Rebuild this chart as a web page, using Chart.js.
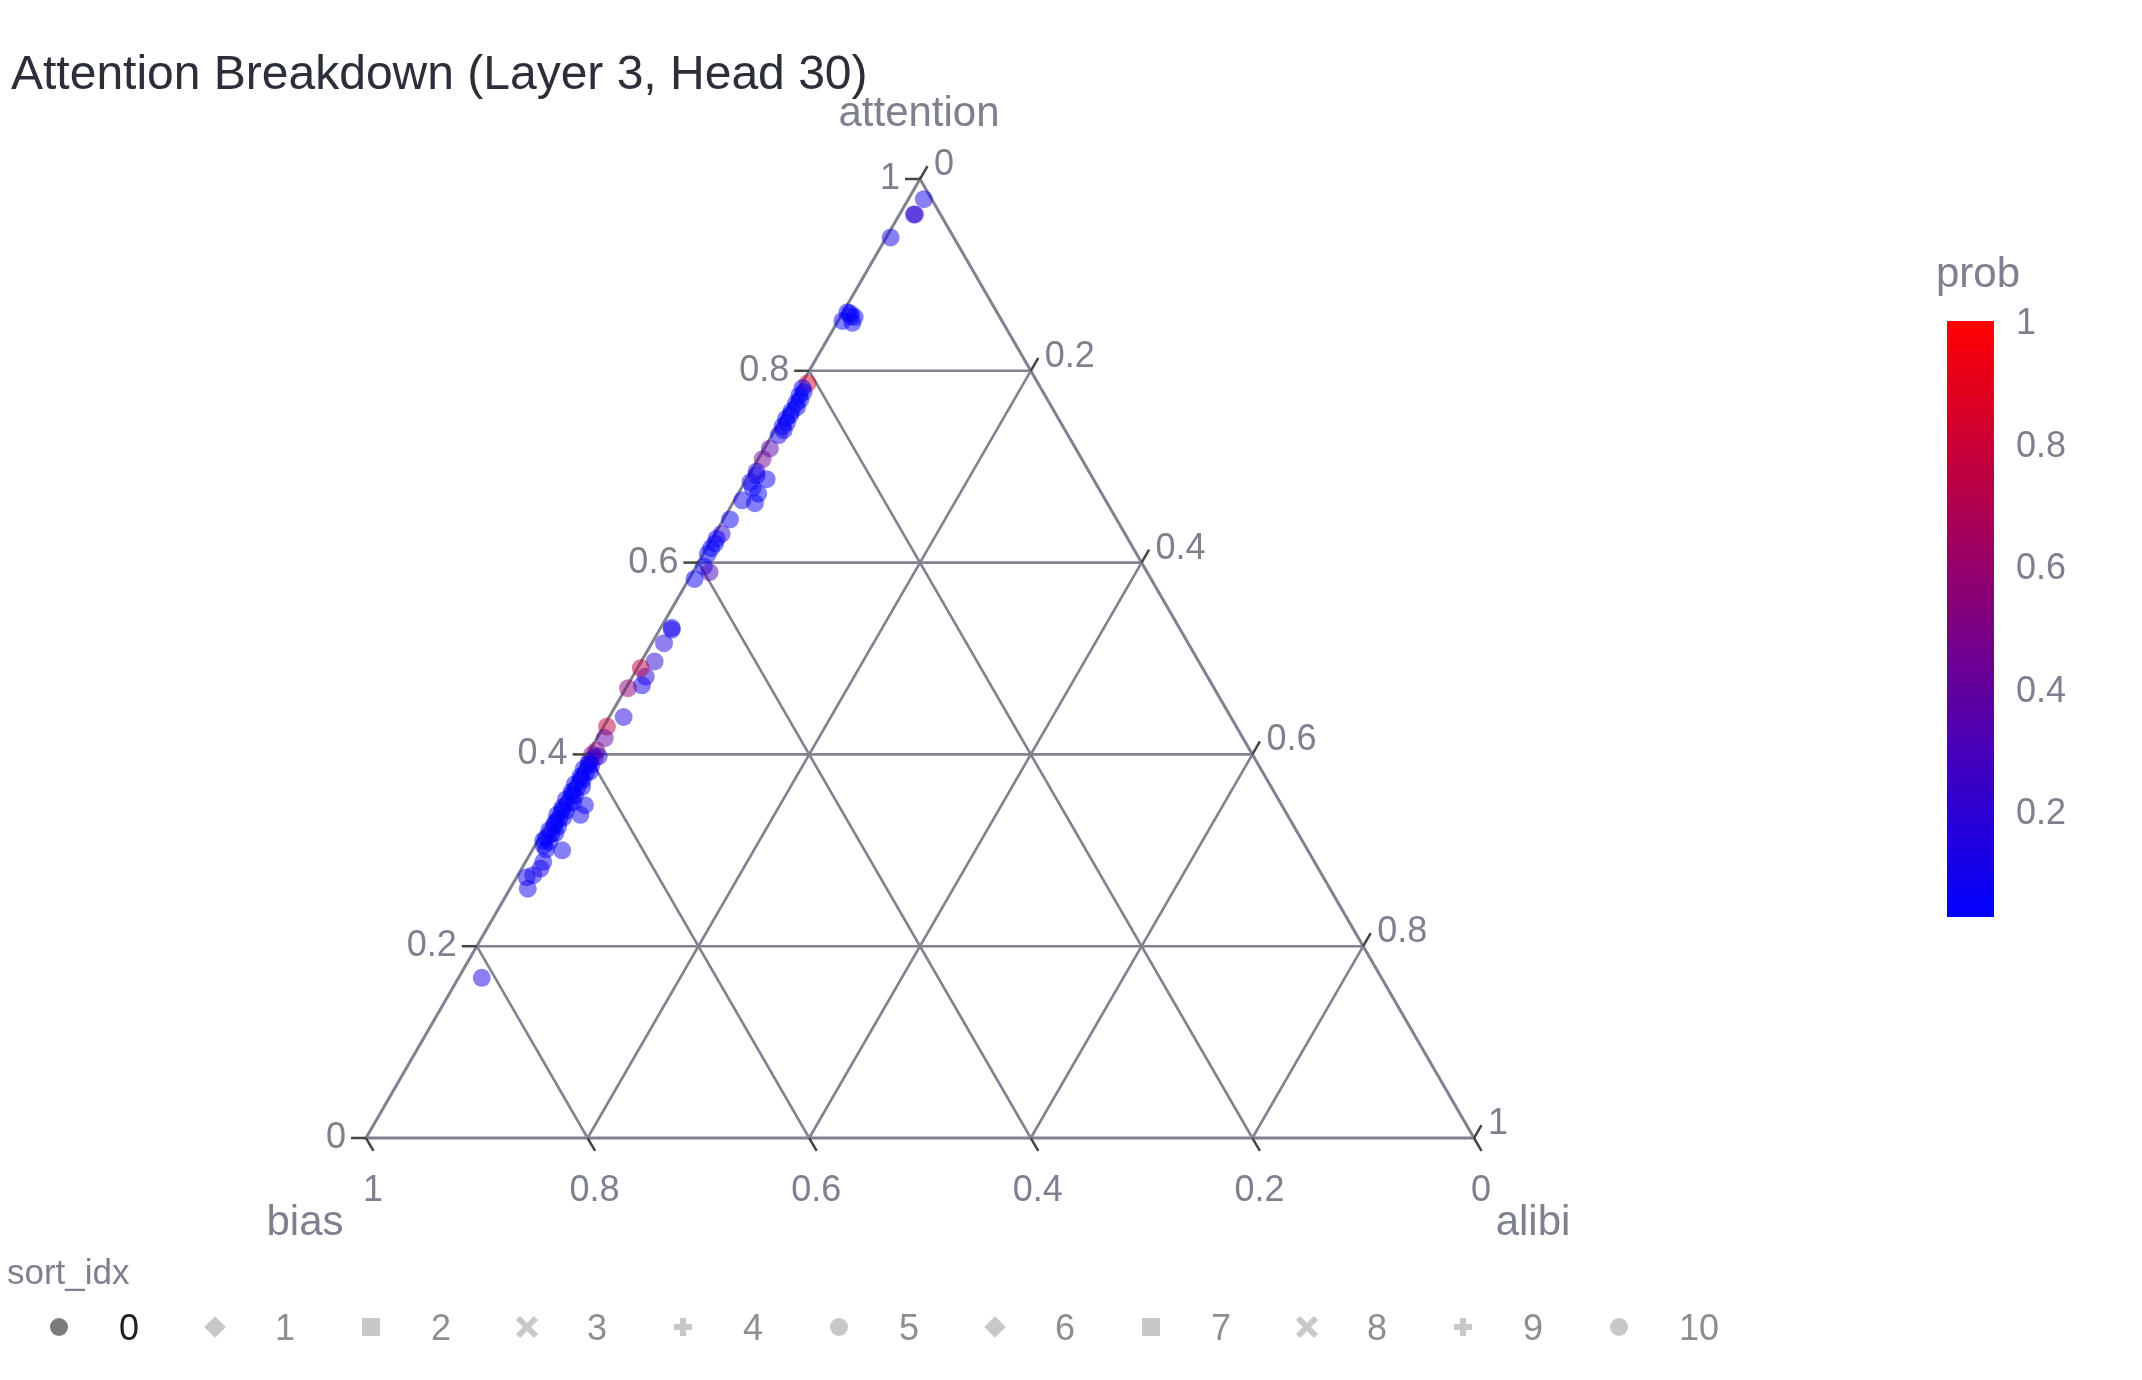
<!DOCTYPE html>
<html>
<head>
<meta charset="utf-8">
<title>Attention Breakdown</title>
<script src="https://cdn.jsdelivr.net/npm/chart.js@4.4.1/dist/chart.umd.min.js"></script>
<style>
  html, body { margin: 0; padding: 0; background: #fff; }
  #wrap { width: 2142px; height: 1380px; }
</style>
</head>
<body>
<div id="wrap"><canvas id="myChart" width="2142" height="1380"></canvas></div>
<script>
// ternary components, one entry per point (sort_idx 0)
const attention = [0.979, 0.963, 0.963, 0.939, 0.860, 0.856, 0.852, 0.861, 0.850, 0.857,
  0.787, 0.782, 0.778, 0.774, 0.770, 0.766, 0.762, 0.758, 0.754, 0.750,
  0.746, 0.742, 0.738, 0.733, 0.719, 0.708, 0.691, 0.687, 0.684, 0.672,
  0.665, 0.662, 0.678, 0.695, 0.645, 0.630, 0.625, 0.620, 0.615, 0.609,
  0.596, 0.590, 0.583, 0.530, 0.532, 0.516, 0.497, 0.481, 0.490, 0.472,
  0.469, 0.439, 0.429, 0.417, 0.404, 0.400, 0.397, 0.393, 0.389, 0.385,
  0.381, 0.377, 0.373, 0.369, 0.365, 0.361, 0.357, 0.353, 0.349, 0.345,
  0.341, 0.337, 0.333, 0.329, 0.325, 0.321, 0.317, 0.313, 0.309, 0.305,
  0.301, 0.347, 0.337, 0.300, 0.288, 0.281, 0.274, 0.272, 0.260, 0.167,
  0.398, 0.390, 0.382, 0.374, 0.366, 0.358, 0.350, 0.342, 0.334, 0.326,
  0.318, 0.310];
const bias = [0.007, 0.023, 0.024, 0.057, 0.133, 0.131, 0.144, 0.135, 0.136, 0.134,
  0.208, 0.215, 0.216, 0.222, 0.223, 0.229, 0.230, 0.237, 0.240, 0.246,
  0.247, 0.253, 0.254, 0.261, 0.276, 0.288, 0.302, 0.295, 0.311, 0.310,
  0.328, 0.318, 0.312, 0.300, 0.349, 0.364, 0.371, 0.375, 0.381, 0.387,
  0.397, 0.395, 0.412, 0.459, 0.458, 0.473, 0.491, 0.507, 0.507, 0.515,
  0.529, 0.548, 0.568, 0.576, 0.590, 0.596, 0.595, 0.602, 0.602, 0.611,
  0.611, 0.618, 0.618, 0.627, 0.627, 0.634, 0.633, 0.643, 0.643, 0.650,
  0.649, 0.659, 0.659, 0.665, 0.664, 0.674, 0.674, 0.681, 0.680, 0.687,
  0.687, 0.629, 0.638, 0.673, 0.696, 0.702, 0.712, 0.719, 0.724, 0.812,
  0.591, 0.604, 0.607, 0.619, 0.622, 0.635, 0.638, 0.652, 0.655, 0.667,
  0.670, 0.685];
const alibi = [0.014, 0.014, 0.013, 0.004, 0.007, 0.013, 0.004, 0.004, 0.014, 0.009,
  0.005, 0.003, 0.006, 0.004, 0.007, 0.005, 0.008, 0.005, 0.006, 0.004,
  0.007, 0.005, 0.008, 0.006, 0.005, 0.004, 0.007, 0.018, 0.005, 0.018,
  0.007, 0.020, 0.010, 0.005, 0.006, 0.006, 0.004, 0.005, 0.004, 0.004,
  0.007, 0.015, 0.005, 0.011, 0.010, 0.011, 0.012, 0.012, 0.003, 0.013,
  0.002, 0.013, 0.003, 0.007, 0.006, 0.004, 0.008, 0.005, 0.009, 0.004,
  0.008, 0.005, 0.009, 0.004, 0.008, 0.005, 0.010, 0.004, 0.008, 0.005,
  0.010, 0.004, 0.008, 0.006, 0.011, 0.005, 0.009, 0.006, 0.011, 0.008,
  0.012, 0.024, 0.025, 0.027, 0.016, 0.017, 0.014, 0.009, 0.016, 0.021,
  0.011, 0.006, 0.011, 0.007, 0.012, 0.007, 0.012, 0.006, 0.011, 0.007,
  0.012, 0.005];
const prob = [0.10, 0.22, 0.18, 0.10, 0.03, 0.03, 0.04, 0.03, 0.05, 0.04,
  0.85, 0.05, 0.03, 0.04, 0.03, 0.03, 0.04, 0.03, 0.03, 0.05,
  0.03, 0.04, 0.06, 0.08, 0.35, 0.45, 0.08, 0.06, 0.10, 0.05,
  0.07, 0.06, 0.04, 0.15, 0.06, 0.20, 0.05, 0.04, 0.06, 0.05,
  0.05, 0.30, 0.05, 0.08, 0.10, 0.15, 0.20, 0.15, 0.75, 0.10,
  0.55, 0.15, 0.75, 0.40, 0.55, 0.45, 0.30, 0.15, 0.08, 0.05,
  0.04, 0.03, 0.03, 0.03, 0.04, 0.03, 0.03, 0.03, 0.05, 0.03,
  0.03, 0.03, 0.04, 0.03, 0.03, 0.03, 0.03, 0.04, 0.03, 0.03,
  0.05, 0.10, 0.08, 0.08, 0.06, 0.08, 0.10, 0.08, 0.10, 0.12,
  0.20, 0.06, 0.04, 0.03, 0.03, 0.03, 0.04, 0.03, 0.03, 0.03,
  0.04, 0.03];

const axisTicks = [0, 0.2, 0.4, 0.6, 0.8, 1];
const tickLabels = ['0', '0.2', '0.4', '0.6', '0.8', '1'];
const cbTicks = [0.2, 0.4, 0.6, 0.8, 1];
const cbMin = 0.028, cbMax = 1;
const legendIdx = ['0', '1', '2', '3', '4', '5', '6', '7', '8', '9', '10'];
const legendSymbols = ['circle', 'diamond', 'square', 'x', 'cross', 'circle', 'diamond', 'square', 'x', 'cross', 'circle'];

const H = Math.sqrt(3) / 2;
const FONT = '"Liberation Sans", Arial, sans-serif';
const GRID = '#80828f';
const TEXT = '#7f808e';

function toXY(a, b, c) {
  const s = a + b + c;
  return { x: (c + a / 2) / s, y: (a / s) * H };
}

function probColor(p, alpha) {
  let t = (p - cbMin) / (cbMax - cbMin);
  t = Math.max(0, Math.min(1, t));
  return 'rgba(' + Math.round(255 * t) + ',0,' + Math.round(255 * (1 - t)) + ',' + alpha + ')';
}

const points = attention.map((a, i) => toXY(a, bias[i], alibi[i]));
const colors = prob.map(p => probColor(p, 0.5));

function pix(chart, a, b, c) {
  const p = toXY(a, b, c);
  return [chart.scales.x.getPixelForValue(p.x), chart.scales.y.getPixelForValue(p.y)];
}

function line(ctx, p, q) {
  ctx.beginPath();
  ctx.moveTo(p[0], p[1]);
  ctx.lineTo(q[0], q[1]);
  ctx.stroke();
}

const ternaryGrid = {
  id: 'ternaryGrid',
  beforeDatasetsDraw(chart) {
    const ctx = chart.ctx;
    ctx.save();
    ctx.strokeStyle = GRID;
    ctx.lineWidth = 2.6;
    for (let k = 1; k < axisTicks.length - 1; k++) {
      const v = axisTicks[k];
      line(ctx, pix(chart, v, 1 - v, 0), pix(chart, v, 0, 1 - v));
      line(ctx, pix(chart, 1 - v, v, 0), pix(chart, 0, v, 1 - v));
      line(ctx, pix(chart, 1 - v, 0, v), pix(chart, 0, 1 - v, v));
    }
    ctx.lineWidth = 3;
    ctx.beginPath();
    const T = pix(chart, 1, 0, 0), L = pix(chart, 0, 1, 0), R = pix(chart, 0, 0, 1);
    ctx.moveTo(T[0], T[1]); ctx.lineTo(L[0], L[1]); ctx.lineTo(R[0], R[1]); ctx.closePath();
    ctx.stroke();
    ctx.restore();
  },
  afterDraw(chart) {
    const ctx = chart.ctx;
    ctx.save();
    const tl = 15, dx = tl * 0.5, dy = tl * H;

    // ticks and tick labels
    ctx.font = '36px ' + FONT;
    ctx.textBaseline = 'middle';
    axisTicks.forEach((v, k) => {
      // attention on the left edge
      let p = pix(chart, v, 1 - v, 0);
      ctx.strokeStyle = '#444'; ctx.lineWidth = 2.5;
      line(ctx, p, [p[0] - tl, p[1]]);
      ctx.fillStyle = TEXT; ctx.textAlign = 'right';
      ctx.fillText(tickLabels[k], p[0] - 20, p[1]);
      // bias along the bottom
      p = pix(chart, 0, v, 1 - v);
      line(ctx, p, [p[0] + dx, p[1] + dy]);
      ctx.textAlign = 'center';
      ctx.fillText(tickLabels[k], p[0] + 7, p[1] + 53);
      // alibi on the right edge
      p = pix(chart, 1 - v, 0, v);
      line(ctx, p, [p[0] + dx, p[1] - dy]);
      ctx.textAlign = 'left';
      ctx.fillText(tickLabels[k], p[0] + 14, p[1] - 14);
    });

    // axis titles
    ctx.font = '42px ' + FONT;
    ctx.fillStyle = TEXT;
    ctx.textAlign = 'center';
    ctx.fillText('attention', 919, 114);
    ctx.fillText('bias', 305, 1223);
    ctx.fillText('alibi', 1533, 1223);

    // chart title
    ctx.font = '48px ' + FONT;
    ctx.fillStyle = '#2c2f38';
    ctx.textAlign = 'left';
    ctx.fillText('Attention Breakdown (Layer 3, Head 30)', 11, 76);

    // colour bar
    const cbX = 1947, cbW = 47, cbTop = 321, cbBot = 917;
    const grad = ctx.createLinearGradient(0, cbTop, 0, cbBot);
    grad.addColorStop(0, 'rgb(255,0,0)');
    grad.addColorStop(1, 'rgb(0,0,255)');
    ctx.fillStyle = grad;
    ctx.fillRect(cbX, cbTop, cbW, cbBot - cbTop);
    ctx.font = '42px ' + FONT;
    ctx.fillStyle = TEXT;
    ctx.fillText('prob', 1936, 275);
    ctx.font = '36px ' + FONT;
    cbTicks.forEach(v => {
      const y = cbBot - (v - cbMin) / (cbMax - cbMin) * (cbBot - cbTop);
      ctx.fillText(String(v), 2016, y + 3);
    });

    // legend
    ctx.fillStyle = TEXT;
    ctx.font = '35px ' + FONT;
    ctx.fillText('sort_idx', 7, 1274);
    legendIdx.forEach((lab, i) => {
      const cx = 59 + i * 156, cy = 1327;
      const on = i === 0;
      drawSymbol(ctx, legendSymbols[i], cx, cy, on ? '#7b7b7b' : '#c8c8c8');
      ctx.fillStyle = on ? '#1f1f1f' : '#8e8e8e';
      ctx.font = '36px ' + FONT;
      ctx.fillText(lab, cx + 60, cy + 3);
    });
    ctx.restore();
  }
};

function drawSymbol(ctx, kind, x, y, col) {
  const r = 9;
  ctx.fillStyle = col;
  ctx.strokeStyle = col;
  ctx.beginPath();
  if (kind === 'circle') {
    ctx.arc(x, y, r, 0, Math.PI * 2);
    ctx.fill();
  } else if (kind === 'diamond') {
    ctx.moveTo(x, y - r * 1.2); ctx.lineTo(x + r * 1.2, y); ctx.lineTo(x, y + r * 1.2); ctx.lineTo(x - r * 1.2, y);
    ctx.closePath(); ctx.fill();
  } else if (kind === 'square') {
    ctx.rect(x - r, y - r, 2 * r, 2 * r);
    ctx.fill();
  } else if (kind === 'x') {
    ctx.lineWidth = 6;
    ctx.moveTo(x - r, y - r); ctx.lineTo(x + r, y + r);
    ctx.moveTo(x + r, y - r); ctx.lineTo(x - r, y + r);
    ctx.stroke();
  } else {
    ctx.lineWidth = 6;
    ctx.moveTo(x - r, y); ctx.lineTo(x + r, y);
    ctx.moveTo(x, y - r); ctx.lineTo(x, y + r);
    ctx.stroke();
  }
}

const ctx = document.getElementById('myChart').getContext('2d');
new Chart(ctx, {
  type: 'scatter',
  data: {
    datasets: [{
      label: 'sort_idx 0',
      data: points,
      backgroundColor: colors,
      borderWidth: 0,
      pointRadius: 9,
      pointHoverRadius: 9
    }]
  },
  options: {
    responsive: false,
    animation: false,
    devicePixelRatio: 1,
    layout: { padding: { left: 366, right: 668, top: 179, bottom: 242 } },
    plugins: { legend: { display: false }, tooltip: { enabled: false }, title: { display: false } },
    scales: {
      x: { type: 'linear', min: 0, max: 1, display: false },
      y: { type: 'linear', min: 0, max: H, display: false }
    }
  },
  plugins: [ternaryGrid]
});
</script>
</body>
</html>
